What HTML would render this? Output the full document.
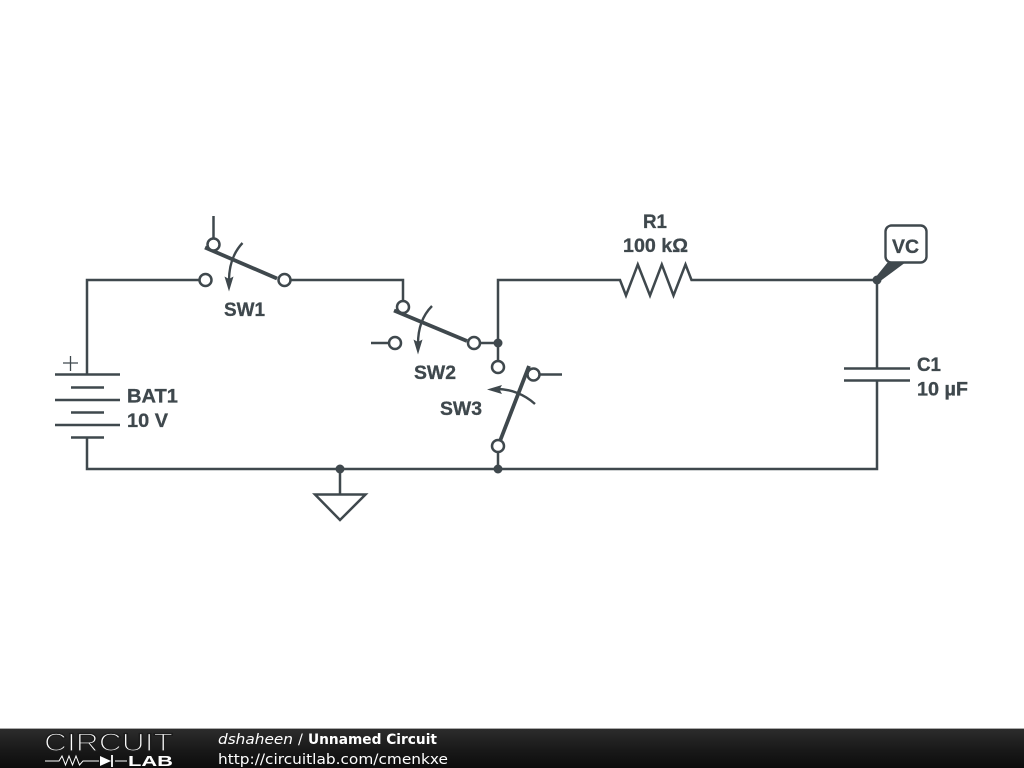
<!DOCTYPE html>
<html>
<head>
<meta charset="utf-8">
<style>
html,body{margin:0;padding:0;background:#fff;width:1024px;height:768px;overflow:hidden}
svg{display:block}
.l{font-family:"Liberation Sans",sans-serif;font-weight:bold;font-size:19px;fill:#3f484d;stroke:#3f484d;stroke-width:.3}
.w{fill:none;stroke:#3f484d;stroke-width:2.500;stroke-linejoin:miter}
.b{fill:none;stroke:#3f484d;stroke-width:3.800;stroke-linecap:butt}
.c{fill:#fff;stroke:#3f484d;stroke-width:2.500}
.a{fill:none;stroke:#3f484d;stroke-width:2.400}
.h{fill:#3f484d;stroke:none}
.f{font-family:"DejaVu Sans",sans-serif;font-size:14.500px;fill:#fff}
</style>
</head>
<body>
<svg width="1024" height="768" viewBox="0 0 1024 768" xmlns="http://www.w3.org/2000/svg">
<defs>
<linearGradient id="g" x1="0" y1="0" x2="0" y2="1">
<stop offset="0" stop-color="#2c2c2c"/><stop offset="0.5" stop-color="#1a1a1a"/><stop offset="1" stop-color="#0c0c0c"/>
</linearGradient>
</defs>
<rect width="1024" height="768" fill="#fff"/>

<!-- wires -->
<path class="w" d="M87 374V280H199"/>
<path class="w" d="M87 437V469H877V380"/>
<path class="w" d="M213.500 216V238"/>
<path class="w" d="M291 280H403V301"/>
<path class="w" d="M371 343H389"/>
<path class="w" d="M480 343H498"/>
<path class="w" d="M498 361V280H620L626 295.500L637.800 264.500L650 295.500L661.800 264.500L673.500 295.500L685.500 264.500L691.500 280H877V368"/>
<path class="w" d="M540 374.500H562"/>
<path class="w" d="M498 452V469"/>
<path class="w" d="M340 469V494"/>
<path class="w" d="M315 494.500H365.500L340 520Z"/>

<!-- battery -->
<path class="w" d="M55 374.500H120M71 387.500H104M55 400H120M71 412.500H104M55 425H120M71 437.500H104"/>
<path d="M63 363H78M70.500 356V371" fill="none" stroke="#3f484d" stroke-width="1.300"/>

<!-- capacitor -->
<path class="w" d="M844 368.500H910M844 380.500H910"/>

<!-- SW1 -->
<path class="b" d="M205 247.500L277 278.500"/>
<path class="a" d="M242.500 243C233 253 229 266 229 281"/>
<path class="h" d="M229 291.500L224.500 276.500L229 279L233.500 276.500Z"/>
<circle class="c" cx="213.500" cy="244.500" r="6"/>
<circle class="c" cx="205.500" cy="280" r="6"/>
<circle class="c" cx="284.500" cy="280" r="6"/>

<!-- SW2 -->
<path class="b" d="M394 310.500L467 341"/>
<path class="a" d="M432 306C422 316 418 329 418 344"/>
<path class="h" d="M418 354.500L413.500 339.500L418 342L422.500 339.500Z"/>
<circle class="c" cx="403" cy="307" r="6"/>
<circle class="c" cx="395" cy="343" r="6"/>
<circle class="c" cx="474" cy="343" r="6"/>

<!-- SW3 -->
<path class="b" d="M529 366L500 441"/>
<path class="a" d="M535 404C524 394 510 389 497 389"/>
<path class="h" d="M487 389.500L502 385L499.500 389.500L502 394Z"/>
<circle class="c" cx="498" cy="367" r="6"/>
<circle class="c" cx="533.500" cy="374.500" r="6"/>
<circle class="c" cx="498" cy="446" r="6"/>

<!-- junctions -->
<circle class="h" cx="340" cy="469" r="4.500"/>
<circle class="h" cx="498" cy="469" r="4.500"/>
<circle class="h" cx="498" cy="343" r="4.500"/>
<circle class="h" cx="877" cy="280" r="4.500"/>

<!-- VC flag -->
<path class="h" d="M875 278L888 262H906L879 282Z"/>
<rect x="885.500" y="225.500" width="41" height="37" rx="6" ry="6" fill="#fff" stroke="#3f484d" stroke-width="2.400"/>

<!-- labels -->
<text class="l" x="892" y="253" textLength="27" lengthAdjust="spacingAndGlyphs">VC</text>
<text class="l" x="224" y="316" textLength="41" lengthAdjust="spacingAndGlyphs">SW1</text>
<text class="l" x="414" y="379" textLength="42" lengthAdjust="spacingAndGlyphs">SW2</text>
<text class="l" x="440" y="415" textLength="42" lengthAdjust="spacingAndGlyphs">SW3</text>
<text class="l" x="127" y="402.500" textLength="51" lengthAdjust="spacingAndGlyphs">BAT1</text>
<text class="l" x="127" y="427" textLength="41" lengthAdjust="spacingAndGlyphs">10 V</text>
<text class="l" x="643" y="228" textLength="24" lengthAdjust="spacingAndGlyphs">R1</text>
<text class="l" x="623" y="252" textLength="65" lengthAdjust="spacingAndGlyphs">100 kΩ</text>
<text class="l" x="917" y="371" textLength="24" lengthAdjust="spacingAndGlyphs">C1</text>
<text class="l" x="917" y="395.500" textLength="51" lengthAdjust="spacingAndGlyphs">10 µF</text>

<!-- footer -->
<rect x="0" y="729" width="1024" height="39" fill="url(#g)"/>
<rect x="0" y="728" width="1024" height="1" fill="#aaa"/>
<text x="44" y="751" font-family="'Liberation Sans',sans-serif" font-size="25" fill="#fff" stroke="#1c1c1c" stroke-width="1.300" textLength="129" lengthAdjust="spacingAndGlyphs">CIRCUIT</text>
<path d="M45 761H59L62 756L65.500 765L69 756L72.500 765L76 756L79.500 765L83 761H99M115 761H127" fill="none" stroke="#fff" stroke-width="1"/>
<path d="M100 756L111 761L100 766Z" fill="#fff"/>
<path d="M112 755V767" stroke="#fff" stroke-width="1.800" fill="none"/>
<text x="128" y="766" font-family="'Liberation Sans',sans-serif" font-size="15" font-weight="bold" fill="#fff" textLength="45" lengthAdjust="spacingAndGlyphs">LAB</text>
<text class="f" x="218" y="744" font-style="italic" textLength="75" lengthAdjust="spacingAndGlyphs">dshaheen</text>
<text class="f" x="298" y="744">/</text>
<text class="f" x="308" y="744" font-weight="bold" textLength="129" lengthAdjust="spacingAndGlyphs">Unnamed Circuit</text>
<text class="f" x="218" y="764" textLength="230" lengthAdjust="spacingAndGlyphs">http://circuitlab.com/cmenkxe</text>
</svg>
</body>
</html>
